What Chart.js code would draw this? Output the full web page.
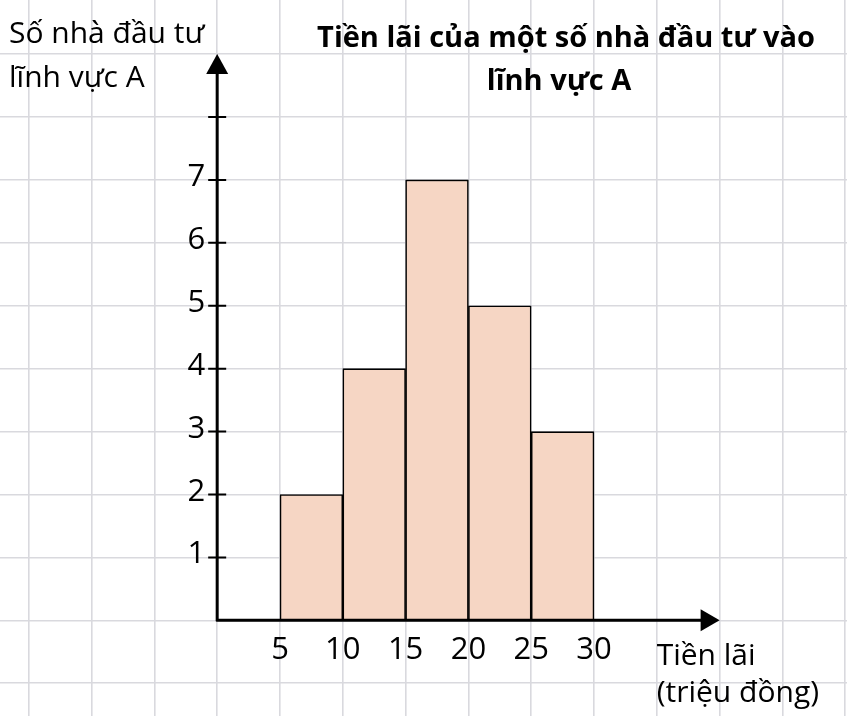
<!DOCTYPE html>
<html>
<head>
<meta charset="utf-8">
<script src="https://cdn.jsdelivr.net/npm/chart.js@4/dist/chart.umd.min.js"></script>
<style>
  html, body { margin: 0; padding: 0; background: #ffffff; }
  #wrap { width: 847px; height: 716px; }
</style>
</head>
<body>
<div id="wrap"><canvas id="c" width="847" height="716"></canvas></div>
<script>
// ---- data ----
const binStarts = [5, 10, 15, 20, 25];
const binEnds = [10, 15, 20, 25, 30];
const counts = [2, 4, 7, 5, 3];
const xTickLabels = [5, 10, 15, 20, 25, 30];
const yTickLabels = [1, 2, 3, 4, 5, 6, 7];
const yTickMarks = [1, 2, 3, 4, 5, 6, 7, 8];
const titleLines = ['Tiền lãi của một số nhà đầu tư vào', 'lĩnh vực A'];
const yAxisTitle = ['Số nhà đầu tư', 'lĩnh vực A'];
const xAxisTitle = ['Tiền lãi', '(triệu đồng)'];

// view extents (value space)
const xView = { min: -17.29, max: 50.14, axisEnd: 40, grid: 5 };
const yView = { min: -1.52, max: 9.86, axisEnd: 9, grid: 1 };

const FONT = '"Open Sans", "Noto Sans", sans-serif';

const drawPlugin = {
  id: 'decor',
  afterDatasetsDraw(chart) {
    const ctx = chart.ctx;
    const xs = chart.scales.x, ys = chart.scales.y;
    const x0 = xs.getPixelForValue(0), y0 = ys.getPixelForValue(0);
    const xEnd = xs.getPixelForValue(xView.axisEnd);
    const yEnd = ys.getPixelForValue(yView.axisEnd);
    ctx.save();
    ctx.strokeStyle = '#000';
    ctx.fillStyle = '#000';
    ctx.lineCap = 'butt';
    // axes
    ctx.lineWidth = 3;
    ctx.beginPath();
    ctx.moveTo(x0, y0 + 1); ctx.lineTo(x0, yEnd + 10);
    ctx.moveTo(x0 - 1, y0); ctx.lineTo(xEnd - 10, y0);
    ctx.stroke();
    // arrows
    ctx.beginPath();
    ctx.moveTo(x0, yEnd); ctx.lineTo(x0 - 11, yEnd + 20); ctx.lineTo(x0 + 11, yEnd + 20); ctx.closePath();
    ctx.fill();
    ctx.beginPath();
    ctx.moveTo(xEnd, y0); ctx.lineTo(xEnd - 19, y0 - 11); ctx.lineTo(xEnd - 19, y0 + 11); ctx.closePath();
    ctx.fill();
    // y tick marks
    ctx.lineWidth = 2;
    ctx.beginPath();
    yTickMarks.forEach(v => {
      const py = ys.getPixelForValue(v);
      ctx.moveTo(x0 - 9, py); ctx.lineTo(x0 + 9, py);
    });
    ctx.stroke();
    // y tick labels
    ctx.font = '31px ' + FONT;
    ctx.textAlign = 'right';
    ctx.textBaseline = 'alphabetic';
    yTickLabels.forEach(v => {
      const py = ys.getPixelForValue(v);
      ctx.fillText(String(v), x0 - 12, py + 6);
    });
    // x tick labels
    ctx.textAlign = 'center';
    xTickLabels.forEach(v => {
      const px = xs.getPixelForValue(v);
      ctx.fillText(String(v), px, y0 + 39);
    });
    // x axis title
    ctx.textAlign = 'left';
    ctx.font = '30px ' + FONT;
    const xtx = xs.getPixelForValue(xView.axisEnd) - 63;
    ctx.fillText(xAxisTitle[0], xtx, y0 + 45);
    ctx.fillText(xAxisTitle[1], xtx, y0 + 82);
    // y axis title
    ctx.fillText(yAxisTitle[0], 9, 43);
    ctx.fillText(yAxisTitle[1], 9, 87);
    // chart title
    ctx.font = 'bold 29px ' + FONT;
    ctx.textAlign = 'center';
    ctx.fillText(titleLines[0], 566, 47);
    ctx.fillText(titleLines[1], 559, 90);
    ctx.restore();
  }
};

function gridTicks(view) {
  return function (scale) {
    const out = [];
    const start = Math.ceil(view.min / view.grid);
    const end = Math.floor(view.max / view.grid);
    for (let i = start; i <= end; i++) out.push({ value: i * view.grid });
    scale.ticks = out;
  };
}

new Chart(document.getElementById('c'), {
  type: 'bar',
  data: {
    datasets: [{
      data: counts.map((c, i) => ({ x: (binStarts[i] + binEnds[i]) / 2, y: c })),
      backgroundColor: '#f6d6c4',
      borderColor: '#000000',
      borderWidth: 1.6,
      borderSkipped: 'start',
      barPercentage: 1,
      categoryPercentage: 1
    }]
  },
  plugins: [drawPlugin],
  options: {
    responsive: false,
    animation: false,
    devicePixelRatio: 1,
    layout: { padding: 0 },
    plugins: { legend: { display: false }, tooltip: { enabled: false }, title: { display: false } },
    scales: {
      x: {
        type: 'linear',
        offset: false,
        min: xView.min, max: xView.max,
        afterBuildTicks: gridTicks(xView),
        ticks: { display: false },
        border: { display: false },
        grid: { color: '#d9d9de', lineWidth: 1.6, drawTicks: false, offset: false }
      },
      y: {
        type: 'linear',
        min: yView.min, max: yView.max,
        afterBuildTicks: gridTicks(yView),
        ticks: { display: false },
        border: { display: false },
        grid: { color: '#d9d9de', lineWidth: 1.6, drawTicks: false }
      }
    }
  }
});
</script>
</body>
</html>
